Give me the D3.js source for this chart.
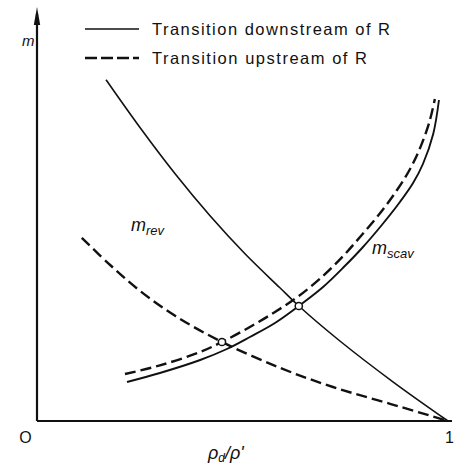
<!DOCTYPE html>
<html>
<head>
<meta charset="utf-8">
<script src="https://cdn.jsdelivr.net/npm/d3@7"></script>
<style>
  html, body { margin: 0; padding: 0; background: #fff; }
  svg { display: block; }
  text { font-family: "Liberation Sans", "DejaVu Sans", sans-serif; fill: #111; }
</style>
</head>
<body>
<svg id="chart" width="455" height="466"></svg>
<script>
// Mass-flow curves against density ratio (x = rho_d/rho', y = m, arbitrary units)
const revDownX = [0.168, 0.251, 0.336, 0.421, 0.506, 0.591, 0.637, 0.737, 0.866, 1.000];
const revDownY = [0.853, 0.733, 0.618, 0.513, 0.418, 0.333, 0.2875, 0.200, 0.098, 0.000];

const revUpX = [0.109, 0.178, 0.251, 0.336, 0.450, 0.591, 0.720, 0.859, 1.000];
const revUpY = [0.458, 0.390, 0.325, 0.263, 0.1975, 0.133, 0.085, 0.043, 0.000];

const scavDownX = [0.219, 0.299, 0.397, 0.462, 0.518, 0.579, 0.637, 0.696, 0.749, 0.791, 0.839, 0.883, 0.915, 0.939, 0.964, 0.978];
const scavDownY = [0.0975, 0.120, 0.1525, 0.180, 0.210, 0.245, 0.2875, 0.335, 0.3875, 0.4325, 0.490, 0.5475, 0.595, 0.6425, 0.7175, 0.8025];

const scavUpX = [0.214, 0.299, 0.397, 0.450, 0.518, 0.579, 0.637, 0.696, 0.745, 0.786, 0.835, 0.876, 0.905, 0.929, 0.954, 0.968];
const scavUpY = [0.1175, 0.139, 0.1725, 0.1975, 0.235, 0.2725, 0.3125, 0.3625, 0.4125, 0.460, 0.520, 0.5775, 0.625, 0.675, 0.745, 0.805];

// Operating points where the m_rev and m_scav curves cross
const crossX = [0.637, 0.450];
const crossY = [0.2875, 0.1975];

const xTickValues = [0, 1];
const xTickLabels = ["O", "1"];
const legendLabels = ["Transition downstream of R", "Transition upstream of R"];

const svg = d3.select("#chart");
const x = d3.scaleLinear().domain([0, 1]).range([37, 448]);
const y = d3.scaleLinear().domain([0, 1]).range([421, 21]);

const pts = (xs, ys) => xs.map((v, i) => [v, ys[i]]);
const line = d3.line().x(d => x(d[0])).y(d => y(d[1])).curve(d3.curveCatmullRom.alpha(0.5));

// Axes
svg.append("line")
  .attr("x1", x(0)).attr("y1", y(0)).attr("x2", 452).attr("y2", y(0))
  .attr("stroke", "#111").attr("stroke-width", 2.2);
svg.append("line")
  .attr("x1", x(0)).attr("y1", y(0)).attr("x2", x(0)).attr("y2", 14)
  .attr("stroke", "#111").attr("stroke-width", 2.2);
svg.append("path")
  .attr("d", `M${x(0)},7 L${x(0) - 3.2},25 L${x(0) + 3.2},25 Z`)
  .attr("fill", "#111");

// Tick labels at 0 and 1
const xAxis = d3.axisBottom(x).tickValues(xTickValues)
  .tickFormat((d, i) => xTickLabels[i]).tickSize(0).tickPadding(0);
const gx = svg.append("g").attr("transform", `translate(0,${y(0)})`).call(xAxis);
gx.select(".domain").remove();
gx.selectAll("text")
  .attr("font-family", "Liberation Sans, sans-serif")
  .attr("font-size", 16)
  .attr("fill", "#111")
  .attr("dy", 0)
  .attr("y", 22)
  .attr("dx", (d, i) => i === 0 ? -12 : 1);

// Curves
const curves = [
  { data: pts(revDownX, revDownY), dash: null, w: 1.6 },
  { data: pts(scavDownX, scavDownY), dash: null, w: 1.9 },
  { data: pts(revUpX, revUpY), dash: "11,5", w: 2.4 },
  { data: pts(scavUpX, scavUpY), dash: "11,5", w: 2.4 }
];
svg.selectAll("path.curve").data(curves).enter().append("path")
  .attr("class", "curve")
  .attr("d", d => line(d.data))
  .attr("fill", "none")
  .attr("stroke", "#111")
  .attr("stroke-width", d => d.w)
  .attr("stroke-dasharray", d => d.dash);

// Crossing markers
svg.selectAll("circle.cross").data(pts(crossX, crossY)).enter().append("circle")
  .attr("class", "cross")
  .attr("cx", d => x(d[0])).attr("cy", d => y(d[1]))
  .attr("r", 3.6)
  .attr("fill", "#fff").attr("stroke", "#111").attr("stroke-width", 1.5);

// Legend
const legend = svg.append("g");
const legendRows = [
  { label: legendLabels[0], dash: null, w: 1.7, ly: 29, ty: 35, len: 238 },
  { label: legendLabels[1], dash: "12,4", w: 2.5, ly: 58, ty: 64, len: 215 }
];
legendRows.forEach(r => {
  legend.append("line")
    .attr("x1", 85).attr("x2", 139).attr("y1", r.ly).attr("y2", r.ly)
    .attr("stroke", "#111").attr("stroke-width", r.w)
    .attr("stroke-dasharray", r.dash);
  legend.append("text")
    .attr("x", 152).attr("y", r.ty)
    .attr("font-size", 16.5)
    .attr("textLength", r.len).attr("lengthAdjust", "spacing")
    .text(r.label);
});

// Axis titles and curve labels
svg.append("text").attr("x", 22).attr("y", 46)
  .attr("font-size", 15).attr("font-style", "italic").text("m");

const revLabel = svg.append("text").attr("x", 131).attr("y", 231)
  .attr("font-size", 18).attr("font-style", "italic");
revLabel.append("tspan").text("m");
revLabel.append("tspan").attr("font-size", 13).attr("dy", 4).text("rev");

const scavLabel = svg.append("text").attr("x", 372).attr("y", 254)
  .attr("font-size", 18).attr("font-style", "italic");
scavLabel.append("tspan").text("m");
scavLabel.append("tspan").attr("font-size", 13).attr("dy", 4).text("scav");

const xTitle = svg.append("text").attr("x", 208).attr("y", 459)
  .attr("font-size", 18).attr("font-style", "italic");
xTitle.append("tspan").text("ρ");
xTitle.append("tspan").attr("font-size", 12).attr("dy", 3).text("d");
xTitle.append("tspan").attr("dy", -3).text("/ρ'");
</script>
</body>
</html>
